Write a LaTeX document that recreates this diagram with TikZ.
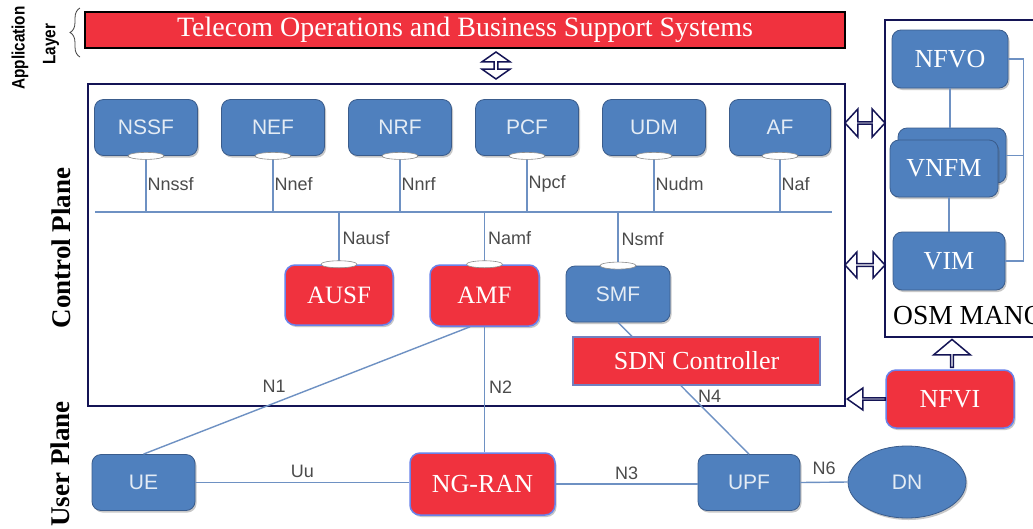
\documentclass[tikz,border=0pt]{standalone}
\usepackage{fontspec}
\setmainfont{Liberation Serif}
\newfontfamily\nffont{Liberation Sans}
\newfontfamily\applfont[FakeStretch=0.85]{Liberation Sans}
\usetikzlibrary{shapes.geometric,shapes.arrows,shadows,decorations.pathreplacing,calc}

\definecolor{telred}{RGB}{240,50,62}
\definecolor{nfblue}{RGB}{79,128,190}
\definecolor{nfedge}{RGB}{58,92,140}
\definecolor{rededge}{RGB}{105,130,235}
\definecolor{navy}{RGB}{20,20,85}
\definecolor{linkc}{RGB}{110,145,195}
\definecolor{lblc}{RGB}{75,75,75}

\begin{document}
\begin{tikzpicture}[x=1pt,y=-1pt,
  softshadow/.style={drop shadow={shadow xshift=1.5pt,shadow yshift=-2pt,opacity=0.3,fill=black!70}},
  telbox/.style={draw=black,line width=2pt,fill=telred,text=white,
    font=\fontsize{28}{28}\selectfont,minimum width=760pt,minimum height=36pt,inner sep=0pt},
  cpbox/.style={draw=navy,line width=2pt,minimum width=757pt,minimum height=322pt,inner sep=0pt},
  manobox/.style={draw=navy,line width=1.5pt,minimum width=200pt,minimum height=317pt,inner sep=0pt},
  nfbox/.style={draw=nfedge,line width=0.8pt,fill=nfblue,rounded corners=9pt,softshadow,
    text=white!85!nfblue,font=\nffont\fontsize{21}{21}\selectfont,
    minimum width=103pt,minimum height=56pt,inner sep=0pt},
  manonf/.style={nfbox,text=white,font=\fontsize{26}{26}\selectfont},
  redbox/.style={draw=rededge,line width=1.5pt,fill=telred,rounded corners=10pt,softshadow,
    text=white,font=\fontsize{25}{25}\selectfont,inner sep=0pt},
  sdnbox/.style={draw=rededge!60!gray,line width=1.5pt,fill=telred,text=white,
    font=\fontsize{26}{26}\selectfont,minimum width=247pt,minimum height=48pt,inner sep=0pt},
  port/.style={ellipse,draw=black!45,line width=0.6pt,fill=white,
    minimum width=36pt,minimum height=7pt,inner sep=0pt},
  link/.style={draw=linkc,line width=1.4pt},
  lbl/.style={text=lblc,font=\nffont\fontsize{18}{18}\selectfont,inner sep=1pt},
  appl/.style={font=\applfont\bfseries\fontsize{18}{18}\selectfont,inner sep=0pt},
  planelbl/.style={font=\bfseries\fontsize{27}{27}\selectfont,inner sep=0pt},
  hdbl/.style={double arrow,draw=navy,fill=white,line width=1.5pt,
    minimum height=40pt,minimum width=28pt,double arrow head extend=8pt,
    double arrow tip angle=95,inner sep=0pt},
  vdbl/.style={hdbl,rotate=90,minimum height=27pt,minimum width=28pt,
    double arrow head extend=5pt,double arrow tip angle=110},
  uparrow/.style={single arrow,draw=navy,fill=white,line width=1.5pt,rotate=90,
    minimum height=28pt,minimum width=37pt,single arrow head extend=9.5pt,
    single arrow tip angle=100,inner sep=0pt},
  leftarrow/.style={single arrow,draw=navy,fill=white,line width=1.5pt,rotate=180,
    minimum height=38pt,minimum width=22pt,single arrow head extend=7pt,
    single arrow tip angle=70,inner sep=0pt}
]
\useasboundingbox (0,0) rectangle (1033,528);
\fill[white] (0,0) rectangle (1033,528);

% application layer
\node[telbox] (oss) at (465,30) {Telecom Operations and Business Support Systems};
\draw[decorate,decoration={brace,amplitude=10pt},line width=0.8pt,black!75] (80,57) -- (80,8);
\node[appl,rotate=90] (appl1) at (20,48) {Application};
\node[appl,rotate=90] (appl2) at (51,44) {Layer};

% plane labels
\node[planelbl,rotate=90] (cplbl) at (61,248) {Control Plane};
\node[planelbl,rotate=90] (uplbl) at (60,464) {User Plane};

\node[vdbl] (ossarrow) at (496,65.5) {};

% control plane frame
\node[cpbox] (cp) at (466.5,245) {};

% service based bus
\coordinate (busl) at (95,212);
\coordinate (busr) at (832,212);
\draw[link] (busl) -- (busr);

% top network functions
\node[nfbox] (nssf) at (146,127.5) {NSSF};
\node[nfbox] (nef)  at (273,127.5) {NEF};
\node[nfbox] (nrf)  at (400,127.5) {NRF};
\node[nfbox] (pcf)  at (527,127.5) {PCF};
\node[nfbox] (udm)  at (654,127.5) {UDM};
\node[nfbox,minimum width=101pt] (af) at (780,127.5) {AF};

\draw[link] (nssf.south) -- (nssf.south |- busl) node[lbl,midway,right] {Nnssf};
\draw[link] (nef.south)  -- (nef.south |- busl)  node[lbl,midway,right] {Nnef};
\draw[link] (nrf.south)  -- (nrf.south |- busl)  node[lbl,midway,right] {Nnrf};
\draw[link] (pcf.south)  -- (pcf.south |- busl)  node[lbl,midway,right] {Npcf};
\draw[link] (udm.south)  -- (udm.south |- busl)  node[lbl,midway,right] {Nudm};
\draw[link] (af.south)   -- (af.south |- busl)   node[lbl,midway,right] {Naf};

\foreach \n in {nssf,nef,nrf,pcf,udm,af} \node[port] (p\n) at (\n.south) {};

% lower network functions
\node[redbox,minimum width=108pt,minimum height=60pt] (ausf) at (339,295) {AUSF};
\node[redbox,minimum width=109pt,minimum height=61pt] (amf)  at (484.5,295.5) {AMF};
\node[nfbox,minimum width=104pt] (smf) at (618,294) {SMF};

\draw[link] (ausf.north) -- (ausf.north |- busl) node[lbl,midway,right=2pt] {Nausf};
\draw[link] (amf.north)  -- (amf.north |- busl)  node[lbl,midway,right=2pt] {Namf};
\draw[link] (smf.north)  -- (smf.north |- busl)  node[lbl,midway,right=2pt] {Nsmf};
\foreach \n in {ausf,amf,smf} \node[port] (p\n) at (\n.north) {};

% user plane
\node[nfbox] (ue) at (143.5,482.5) {UE};
\node[redbox,minimum width=145pt,minimum height=62pt,font=\fontsize{26}{26}\selectfont] (ngran) at (482.5,484) {NG-RAN};
\node[nfbox,minimum width=102pt] (upf) at (749,482.5) {UPF};
\node[nfbox,ellipse,minimum width=118pt,minimum height=72pt] (dn) at (907,482) {DN};

\draw[link] ($(amf.south west)!0.37!(amf.south east)$) -- (ue.north) node[lbl,pos=0.6,above=9pt] {N1};
\draw[link] (amf.south) -- (amf.south |- ngran.north) node[lbl,pos=0.48,right=3pt] {N2};
\draw[link] (smf.south) -- (upf.north) node[lbl,pos=0.56,right=5pt] {N4};
\draw[link] (ue.east) -- (ue.east -| ngran.west) node[lbl,midway,above=3pt] {Uu};
\draw[link] (ngran.east) -- (ngran.east -| upf.west) node[lbl,midway,above=3pt] {N3};
\draw[link] (upf.east) -- (dn.west) node[lbl,midway,above=6pt] {N6};

\node[sdnbox] (sdn) at (696.5,361) {SDN Controller};

% OSM MANO stack
\node[manobox] (mano) at (985,178.5) {};
\node[manonf,minimum width=116pt,minimum height=58pt] (nfvo) at (950,59) {NFVO};
\node[manonf,minimum width=108pt,minimum height=55pt] (vnfmb) at (952,155.5) {};
\node[manonf,minimum width=108pt,minimum height=57pt] (vnfm) at (944,168.5) {VNFM};
\node[manonf,minimum width=112pt,minimum height=58pt] (vim) at (949,261) {VIM};
\node[anchor=west,font=\fontsize{27.5}{27.5}\selectfont,inner sep=0pt] (osm) at (893,316) {OSM MANO};

\draw[link] (nfvo.south) -- (nfvo.south |- vnfmb.north);
\draw[link] (vim.north) -- (vim.north |- vnfm.south);
\coordinate (rail) at ($(vnfmb.east)+(17,0)$);
\draw[link] (nfvo.east) -| (rail) |- (vim.east);
\draw[link] (vnfmb.east) -- (rail);

% infrastructure
\node[redbox,minimum width=128pt,minimum height=58pt,font=\fontsize{26}{26}\selectfont] (nfvi) at (950,399) {NFVI};

% interface arrows
\node[hdbl] (arr1) at (865,123) {};
\node[hdbl,minimum width=26pt,double arrow head extend=7pt] (arr2) at (865,265) {};
\node[uparrow] (arr3) at (952,354) {};
\node[leftarrow] (arr4) at (867,399) {};
\end{tikzpicture}
\end{document}
